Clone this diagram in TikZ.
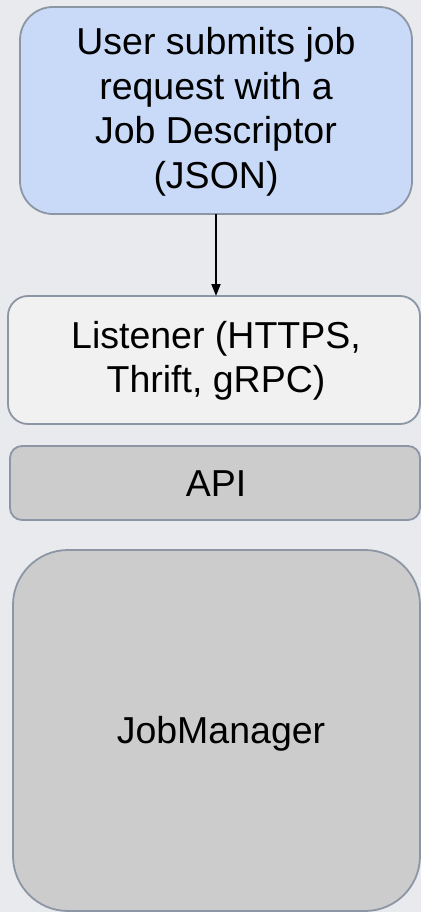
\documentclass[tikz,border=0pt]{standalone}
\usepackage{fontspec}
\setmainfont{Liberation Sans}
\usetikzlibrary{arrows.meta}
\definecolor{bgc}{HTML}{E8EAED}
\definecolor{edgec}{HTML}{8D96A4}
\definecolor{bluefill}{HTML}{C9DAF8}
\definecolor{lightfill}{HTML}{F1F1F2}
\definecolor{grayfill}{HTML}{CCCCCC}
\tikzset{
  blk/.style={draw=edgec, line width=1.8pt},
  lbl/.style={font=\fontsize{37.5}{44.5}\selectfont, align=center, text=black},
  flow/.style={line width=1.8pt, -{Triangle[length=12pt, width=9pt]}}
}
\begin{document}
\begin{tikzpicture}[x=1pt, y=-1pt]
  % canvas
  \fill[bgc] (0,0) rectangle (421,912);
  \useasboundingbox (0,0) rectangle (421,912);
  \begin{scope}
    \clip (0,0) rectangle (421,912);
    % request box
    \draw[blk, fill=bluefill, rounded corners=33pt] (20,7) rectangle (412,214);
    \node[lbl] (req) at (216,112) {User submits job\\request with a\\Job Descriptor\\(JSON)};
    \coordinate (reqb) at (216,214);
    % listener
    \draw[blk, fill=lightfill, rounded corners=20pt] (8,296) rectangle (420,424);
    \node[lbl] (lis) at (216,361) {Listener (HTTPS,\\Thrift, gRPC)};
    \coordinate (list) at (216,296);
    % API layer
    \draw[blk, fill=grayfill, rounded corners=12pt] (10,446) rectangle (420,520);
    \node[lbl] (api) at (216,484) {API};
    % job manager
    \draw[blk, fill=grayfill, rounded corners=55pt] (13,550) rectangle (420,911);
    \node[lbl] (jm) at (221,734) {JobManager};
    % request flows into the listener
    \draw[flow] (reqb) -- (list);
  \end{scope}
\end{tikzpicture}
\end{document}
